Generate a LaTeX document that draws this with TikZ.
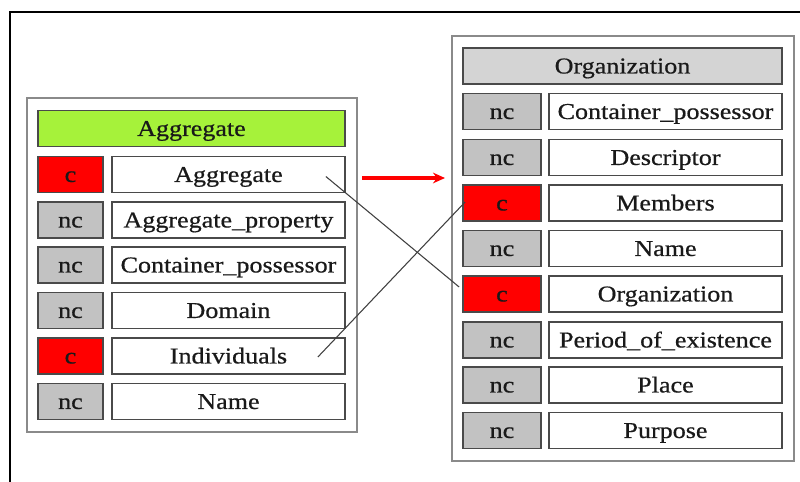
\documentclass[tikz,border=0pt]{standalone}
\usepackage{fontspec}
\setmainfont{Liberation Serif}[FakeStretch=1.15, FakeBold=0.6]
\usetikzlibrary{arrows.meta}
\definecolor{hdrgreen}{HTML}{A6F23A}
\definecolor{hdrgray}{HTML}{D4D4D4}
\definecolor{ncgray}{HTML}{C2C2C2}
\definecolor{cred}{HTML}{FF0000}
\definecolor{edge}{HTML}{4A4A4A}
\definecolor{frameedge}{HTML}{8A8A8A}
\tikzset{
  cell/.style={draw=edge, line width=1.3pt, minimum height=27pt, inner sep=0pt,
    text height=13pt, text depth=1.8pt,
    font=\fontsize{17}{20}\selectfont, text=black!90},
  tag/.style={cell, fill=ncgray, minimum width=48.75pt},
  ctag/.style={cell, fill=cred, minimum width=48.75pt},
  ltag/.style={cell, fill=ncgray, minimum width=58.5pt},
  lctag/.style={cell, fill=cred, minimum width=58.5pt},
  attr/.style={cell, fill=white, minimum width=174.75pt},
  frame/.style={draw=frameedge, line width=1.8pt, fill=white},
  link/.style={draw=black!75, line width=0.8pt},
}
\begin{document}
\begin{tikzpicture}[x=0.75pt, y=-0.75pt]
\useasboundingbox (0,0) rectangle (800,482);
\fill[white] (0,0) rectangle (800,482);
% surrounding frame (open on the right and bottom)
\draw[line width=1.5pt, black] (10,482) -- (10,12) -- (800,12);

% ---- Aggregate table ----
\draw[frame] (27,98) rectangle (357,432);
\node[cell, fill=hdrgreen, minimum width=230.25pt] (aggh) at (191.5,128.5) {Aggregate};
\node[ctag] (a1t) at (70.5,174.5) {c};
\node[attr] (a1) at (228.5,174.5) {Aggregate};
\node[tag] (a2t) at (70.5,220) {nc};
\node[attr] (a2) at (228.5,220) {Aggregate\_property};
\node[tag] (a3t) at (70.5,265) {nc};
\node[attr] (a3) at (228.5,265) {Container\_possessor};
\node[tag] (a4t) at (70.5,310.5) {nc};
\node[attr] (a4) at (228.5,310.5) {Domain};
\node[ctag] (a5t) at (70.5,356) {c};
\node[attr] (a5) at (228.5,356) {Individuals};
\node[tag] (a6t) at (70.5,401.5) {nc};
\node[attr] (a6) at (228.5,401.5) {Name};

% ---- Organization table ----
\draw[frame] (452,36) rectangle (794,461);
\node[cell, fill=hdrgray, minimum width=239.25pt] (orgh) at (622.5,66) {Organization};
\node[ltag] (o1t) at (502,111.5) {nc};
\node[attr] (o1) at (665.5,111.5) {Container\_possessor};
\node[ltag] (o2t) at (502,157.5) {nc};
\node[attr] (o2) at (665.5,157.5) {Descriptor};
\node[lctag] (o3t) at (502,203) {c};
\node[attr] (o3) at (665.5,203) {Members};
\node[ltag] (o4t) at (502,248.5) {nc};
\node[attr] (o4) at (665.5,248.5) {Name};
\node[lctag] (o5t) at (502,294) {c};
\node[attr] (o5) at (665.5,294) {Organization};
\node[ltag] (o6t) at (502,340) {nc};
\node[attr] (o6) at (665.5,340) {Period\_of\_existence};
\node[ltag] (o7t) at (502,385) {nc};
\node[attr] (o7) at (665.5,385) {Place};
\node[ltag] (o8t) at (502,430.5) {nc};
\node[attr] (o8) at (665.5,430.5) {Purpose};

% ---- links between the tables ----
\path (a1.east) ++(-20,2) coordinate (s1);
\path (o5t.west) ++(-3,-7) coordinate (e1);
\path (a5.east) ++(-28,1) coordinate (s2);
\path (o3t.west) ++(3,-1) coordinate (e2);
\draw[link] (s1) -- (e1);
\draw[link] (s2) -- (e2);

% red arrow from the left table to the right table
\coordinate (ra) at (362,178);
\coordinate (rb) at (445,178);
\draw[cred, line width=2.4pt, -{Stealth[length=9pt, width=8pt]}] (ra) -- (rb);
\end{tikzpicture}
\end{document}
